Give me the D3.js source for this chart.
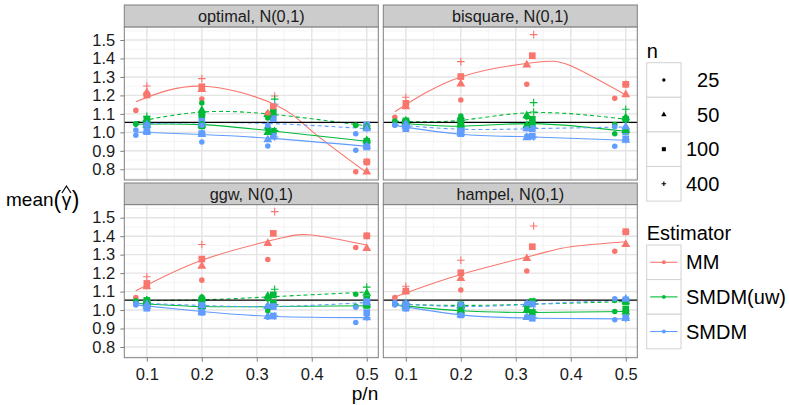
<!DOCTYPE html>
<html>
<head>
<meta charset="utf-8">
<script src="https://cdn.jsdelivr.net/npm/d3@7"></script>
<style>
  body { margin: 0; background: #fff; }
  svg { display: block; }
  text { font-family: "Liberation Sans", Arial, Helvetica, sans-serif; }
</style>
</head>
<body>
<svg id="chart" width="789" height="405"></svg>
<script>
// ---------------------------------------------------------------
// Data
// ---------------------------------------------------------------
const panelTitles = ["optimal, N(0,1)", "bisquare, N(0,1)", "ggw, N(0,1)", "hampel, N(0,1)"];
const estimators = ["MM", "SMDM(uw)", "SMDM"];
const estimatorColors = ["#F8766D", "#00BA38", "#619CFF"];
const sampleSizes = ["25", "50", "100", "400"];

// p/n design points for each sample size (rows follow sampleSizes)
const ratios = [
  [0.08, 0.2, 0.32, 0.48],
  [0.1, 0.2, 0.32, 0.5],
  [0.1, 0.2, 0.33, 0.5],
  [0.1, 0.2, 0.3325, 0.5]
];

const xTicks = [0.1, 0.2, 0.3, 0.4, 0.5];
const yTicks = [0.8, 0.9, 1.0, 1.1, 1.2, 1.3, 1.4, 1.5];
const referenceLevel = 1.054;

// mean(gamma-hat), rows = n 25/50/100/400, columns = design points
const optimalMM      = [[1.119, 1.181, 1.103, 0.787], [1.215, 1.233, 1.100, 0.786], [1.202, 1.247, 1.139, 0.840], [1.251, 1.291, 1.197, 0.840]];
const optimalUw      = [[1.044, 1.047, 1.020, 1.038], [1.040, 1.040, 1.000, 0.955], [1.042, 1.035, 1.006, 0.952], [1.045, 1.045, 1.010, 0.955]];
const optimalUwAlt   = [[1.047, 1.159, 1.078, 1.038], [1.067, 1.119, 1.096, 1.030], [1.071, 1.096, 1.106, 1.030], [1.087, 1.110, 1.180, 1.035]];
const optimalSm      = [[0.984, 0.948, 0.926, 0.903], [1.004, 0.990, 0.960, 0.925], [1.004, 0.993, 0.979, 0.921], [1.006, 0.995, 0.975, 0.925]];
const optimalSmAlt   = [[1.013, 1.038, 1.038, 0.993], [1.040, 1.050, 1.031, 1.020], [1.038, 1.060, 1.074, 1.040], [1.060, 1.094, 1.152, 1.020]];

const bisquareMM     = [[1.082, 1.175, 1.260, 1.184], [1.139, 1.262, 1.365, 1.204], [1.157, 1.302, 1.415, 1.260], [1.190, 1.383, 1.529, 1.260]];
const bisquareUw     = [[1.060, 1.038, 1.038, 0.993], [1.055, 1.040, 1.038, 1.011], [1.055, 1.035, 1.045, 1.006], [1.060, 1.040, 1.110, 1.010]];
const bisquareUwAlt  = [[1.060, 1.089, 1.083, 1.042], [1.060, 1.074, 1.090, 1.080], [1.062, 1.065, 1.071, 1.071], [1.065, 1.075, 1.161, 1.125]];
const bisquareSm     = [[1.038, 1.000, 0.980, 0.925], [1.035, 0.995, 0.971, 0.957], [1.020, 0.993, 0.979, 0.965], [1.030, 1.000, 0.975, 0.960]];
const bisquareSmAlt  = [[1.040, 1.011, 1.020, 1.030], [1.045, 1.020, 1.020, 1.030], [1.035, 1.011, 1.020, 1.006], [1.050, 1.020, 1.025, 1.071]];

const ggwMM          = [[1.068, 1.162, 1.274, 1.339], [1.126, 1.238, 1.361, 1.334], [1.144, 1.276, 1.415, 1.402], [1.180, 1.355, 1.533, 1.402]];
const ggwUw          = [[1.046, 1.055, 0.996, 1.020], [1.040, 1.020, 1.020, 1.028], [1.037, 1.020, 1.037, 1.025], [1.040, 1.025, 1.030, 1.030]];
const ggwUwAlt       = [[1.050, 1.070, 1.060, 1.086], [1.050, 1.060, 1.075, 1.091], [1.052, 1.055, 1.082, 1.059], [1.055, 1.065, 1.113, 1.124]];
const ggwSm          = [[1.028, 0.990, 0.961, 0.932], [1.020, 0.990, 0.965, 0.959], [1.010, 0.988, 0.968, 0.986], [1.015, 0.990, 0.968, 0.960]];
const ggwSmAlt       = [[1.035, 1.028, 1.020, 1.015], [1.030, 1.025, 1.020, 1.040], [1.037, 1.028, 1.019, 1.046], [1.040, 1.030, 1.022, 1.050]];

const hampelMM       = [[1.068, 1.108, 1.211, 1.319], [1.104, 1.171, 1.279, 1.355], [1.102, 1.202, 1.343, 1.424], [1.129, 1.270, 1.455, 1.424]];
const hampelUw       = [[1.032, 1.000, 0.998, 0.992], [1.019, 0.995, 0.998, 0.990], [1.015, 1.001, 0.987, 1.006], [1.020, 1.000, 0.990, 0.995]];
const hampelUwAlt    = [[1.032, 1.025, 1.014, 1.052], [1.030, 1.025, 1.030, 1.045], [1.030, 1.028, 1.046, 1.046], [1.035, 1.030, 1.046, 1.050]];
const hampelSm       = [[1.028, 0.975, 0.965, 0.947], [1.020, 0.975, 0.960, 0.955], [1.010, 0.974, 0.956, 0.959], [1.012, 0.978, 0.958, 0.955]];
const hampelSmAlt    = [[1.041, 1.032, 1.037, 1.061], [1.035, 1.020, 1.030, 1.059], [1.032, 1.018, 1.032, 1.055], [1.035, 1.025, 1.035, 1.060]];

// smoothed trend per estimator, evaluated at these p/n values
const fitXMM = [0.08, 0.2, 0.333, 0.4, 0.5];
const fitX   = [0.08, 0.2, 0.333, 0.5];

const optimalFitMM     = [1.166, 1.250, 1.150, 1.007, 0.782];
const optimalFitUw     = [1.044, 1.042, 1.006, 0.952];
const optimalFitUwAlt  = [1.056, 1.110, 1.096, 1.035];
const optimalFitSm     = [1.002, 0.988, 0.966, 0.924];
const optimalFitSmAlt  = [1.045, 1.053, 1.047, 1.020];

const bisquareFitMM    = [1.112, 1.300, 1.378, 1.360, 1.202];
const bisquareFitUw    = [1.053, 1.033, 1.047, 1.006];
const bisquareFitUwAlt = [1.060, 1.065, 1.107, 1.071];
const bisquareFitSm    = [1.038, 0.990, 0.975, 0.957];
const bisquareFitSmAlt = [1.042, 1.017, 1.020, 1.029];

const ggwFitMM         = [1.104, 1.270, 1.382, 1.406, 1.352];
const ggwFitUw         = [1.037, 1.019, 1.019, 1.023];
const ggwFitUwAlt      = [1.052, 1.055, 1.073, 1.097];
const ggwFitSm         = [1.028, 0.992, 0.965, 0.959];
const ggwFitSmAlt      = [1.037, 1.025, 1.019, 1.041];

const hampelFitMM      = [1.071, 1.193, 1.297, 1.343, 1.370];
const hampelFitUw      = [1.028, 0.996, 0.987, 0.992];
const hampelFitUwAlt   = [1.032, 1.025, 1.032, 1.046];
const hampelFitSm      = [1.028, 0.974, 0.956, 0.952];
const hampelFitSmAlt   = [1.037, 1.019, 1.032, 1.055];

// ---------------------------------------------------------------
// Assemble panel series (estimator index, dashed variant, values, fit)
// ---------------------------------------------------------------
function panelSeries(mm, uw, uwAlt, sm, smAlt, fMM, fUw, fUwAlt, fSm, fSmAlt) {
  return [
    { est: 0, dashed: false, pts: mm,    fx: fitXMM, fy: fMM },
    { est: 1, dashed: false, pts: uw,    fx: fitX,   fy: fUw },
    { est: 1, dashed: true,  pts: uwAlt, fx: fitX,   fy: fUwAlt },
    { est: 2, dashed: false, pts: sm,    fx: fitX,   fy: fSm },
    { est: 2, dashed: true,  pts: smAlt, fx: fitX,   fy: fSmAlt }
  ];
}
const panelData = [
  panelSeries(optimalMM, optimalUw, optimalUwAlt, optimalSm, optimalSmAlt,
              optimalFitMM, optimalFitUw, optimalFitUwAlt, optimalFitSm, optimalFitSmAlt),
  panelSeries(bisquareMM, bisquareUw, bisquareUwAlt, bisquareSm, bisquareSmAlt,
              bisquareFitMM, bisquareFitUw, bisquareFitUwAlt, bisquareFitSm, bisquareFitSmAlt),
  panelSeries(ggwMM, ggwUw, ggwUwAlt, ggwSm, ggwSmAlt,
              ggwFitMM, ggwFitUw, ggwFitUwAlt, ggwFitSm, ggwFitSmAlt),
  panelSeries(hampelMM, hampelUw, hampelUwAlt, hampelSm, hampelSmAlt,
              hampelFitMM, hampelFitUw, hampelFitUwAlt, hampelFitSm, hampelFitSmAlt)
];

// ---------------------------------------------------------------
// Layout
// ---------------------------------------------------------------
const svg = d3.select("#chart");
const colExtent = [[124.3, 378.3], [383.3, 637.3]];
const rowExtent = [
  { strip: 5,   top: 26.9,  bottom: 180.0 },
  { strip: 183, top: 204.6, bottom: 357.7 }
];
const xDomain = [0.059, 0.521];
const yDomain = [0.742, 1.571];
const gridMajor = "#E4E4E4", gridMinor = "#F3F3F3", frame = "#7F7F7F";
const tickFont = 16.5;

// shape generators for n = 25, 50, 100, 400
function shapePath(k, scale) {
  const s = scale || 1;
  if (k === 0) return d3.symbol(d3.symbolCircle, 24 * s * s)();
  if (k === 1) return d3.symbol(d3.symbolTriangle, 34 * s * s)();
  if (k === 2) return d3.symbol(d3.symbolSquare, 45 * s * s)();
  const a = 3.8 * s;
  return `M${-a},0H${a}M0,${-a}V${a}`;
}
function drawShape(g, k, cx, cy, color, scale) {
  const p = g.append("path")
    .attr("d", shapePath(k, scale))
    .attr("transform", `translate(${cx},${cy})`);
  if (k === 3) p.attr("fill", "none").attr("stroke", color).attr("stroke-width", 1.1);
  else p.attr("fill", color);
}

panelTitles.forEach((title, i) => {
  const col = i % 2, row = Math.floor(i / 2);
  const [x0, x1] = colExtent[col];
  const { strip, top, bottom } = rowExtent[row];
  const x = d3.scaleLinear().domain(xDomain).range([x0, x1]);
  const y = d3.scaleLinear().domain(yDomain).range([bottom, top]);
  const g = svg.append("g");

  // panel background and grid
  g.append("rect").attr("x", x0).attr("y", top).attr("width", x1 - x0).attr("height", bottom - top).attr("fill", "#fff");
  const xMinor = d3.range(0.15, 0.5, 0.1);
  const yMinor = d3.range(0.75, 1.56, 0.1);
  g.selectAll(null).data(xMinor).join("line")
    .attr("x1", d => x(d)).attr("x2", d => x(d)).attr("y1", top).attr("y2", bottom)
    .attr("stroke", gridMinor).attr("stroke-width", 0.9);
  g.selectAll(null).data(yMinor).join("line")
    .attr("y1", d => y(d)).attr("y2", d => y(d)).attr("x1", x0).attr("x2", x1)
    .attr("stroke", gridMinor).attr("stroke-width", 0.9);
  g.selectAll(null).data(xTicks).join("line")
    .attr("x1", d => x(d)).attr("x2", d => x(d)).attr("y1", top).attr("y2", bottom)
    .attr("stroke", gridMajor).attr("stroke-width", 1.4);
  g.selectAll(null).data(yTicks).join("line")
    .attr("y1", d => y(d)).attr("y2", d => y(d)).attr("x1", x0).attr("x2", x1)
    .attr("stroke", gridMajor).attr("stroke-width", 1.4);

  // smoothed trends
  const series = panelData[i];
  const line = d3.line().curve(d3.curveNatural);
  series.forEach(s => {
    g.append("path")
      .attr("d", line(s.fx.map((v, j) => [x(v), y(s.fy[j])])))
      .attr("fill", "none")
      .attr("stroke", estimatorColors[s.est])
      .attr("stroke-width", 1.1)
      .attr("stroke-dasharray", s.dashed ? "4,3" : null);
  });

  // reference level
  g.append("line").attr("x1", x0).attr("x2", x1)
    .attr("y1", y(referenceLevel)).attr("y2", y(referenceLevel))
    .attr("stroke", "#000").attr("stroke-width", 1.1);

  // points: n = 400 first so smaller designs sit on top
  [3, 2, 1, 0].forEach(k => {
    series.forEach(s => {
      s.pts[k].forEach((v, j) => {
        drawShape(g, k, x(ratios[k][j]), y(v), estimatorColors[s.est]);
      });
    });
  });

  // frame
  g.append("rect").attr("x", x0).attr("y", top).attr("width", x1 - x0).attr("height", bottom - top)
    .attr("fill", "none").attr("stroke", frame).attr("stroke-width", 1);

  // strip
  g.append("rect").attr("x", x0).attr("y", strip).attr("width", x1 - x0).attr("height", top - strip)
    .attr("fill", "#CCCCCC").attr("stroke", frame).attr("stroke-width", 1);
  g.append("text").attr("x", (x0 + x1) / 2).attr("y", (strip + top) / 2 + 5.7)
    .attr("text-anchor", "middle").attr("font-size", 16.3).attr("fill", "#1a1a1a").text(title);

  // axes on outer panels only
  if (col === 0) {
    const ax = g.append("g").attr("transform", `translate(${x0},0)`)
      .call(d3.axisLeft(y).tickValues(yTicks).tickFormat(d3.format(".1f")).tickSize(4).tickPadding(5));
    ax.select(".domain").remove();
    ax.selectAll(".tick line").attr("stroke", frame);
    ax.selectAll(".tick text").attr("font-size", tickFont).attr("fill", "#1a1a1a")
      .attr("font-family", "Liberation Sans, Arial, sans-serif");
  }
  if (row === 1) {
    const ax = g.append("g").attr("transform", `translate(0,${bottom})`)
      .call(d3.axisBottom(x).tickValues(xTicks).tickFormat(d3.format(".1f")).tickSize(4).tickPadding(7));
    ax.select(".domain").remove();
    ax.selectAll(".tick line").attr("stroke", frame);
    ax.selectAll(".tick text").attr("font-size", tickFont).attr("fill", "#1a1a1a")
      .attr("font-family", "Liberation Sans, Arial, sans-serif");
  }
});

// ---------------------------------------------------------------
// Axis titles
// ---------------------------------------------------------------
svg.append("text").attr("x", 365).attr("y", 400).attr("text-anchor", "middle")
  .attr("font-size", 19).text("p/n");

const yTitle = svg.append("g");
const base = 206;
const tMean = yTitle.append("text").attr("x", 6).attr("y", base).attr("font-size", 19).text("mean");
let cx = 6 + tMean.node().getComputedTextLength();
const tOpen = yTitle.append("text").attr("x", cx).attr("y", base + 2).attr("font-size", 23).text("(");
cx += tOpen.node().getComputedTextLength();
const tGamma = yTitle.append("text").attr("x", cx + 0.5).attr("y", base).attr("font-size", 19).text("γ");
const gw = tGamma.node().getComputedTextLength();
const hatMid = cx + 0.5 + gw / 2;
yTitle.append("path")
  .attr("d", `M${hatMid - 4.5},${base - 13}L${hatMid},${base - 20}L${hatMid + 4.5},${base - 13}`)
  .attr("fill", "none").attr("stroke", "#000").attr("stroke-width", 1.2);
cx += gw + 1;
yTitle.append("text").attr("x", cx).attr("y", base + 2).attr("font-size", 23).text(")");

// ---------------------------------------------------------------
// Legends
// ---------------------------------------------------------------
const legX = 646.7, keyW = 34.3, keyH = 34.6;
const leg = svg.append("g");

leg.append("text").attr("x", legX).attr("y", 58).attr("font-size", 20).text("n");
sampleSizes.forEach((lab, k) => {
  const ky = 62.7 + k * keyH;
  leg.append("rect").attr("x", legX).attr("y", ky).attr("width", keyW).attr("height", keyH)
    .attr("fill", "#fff").attr("stroke", "#D2D2D2").attr("stroke-width", 1);
  drawShape(leg, k, legX + keyW / 2, ky + keyH / 2, "#000", 0.6);
  leg.append("text").attr("x", 719.3).attr("y", ky + keyH / 2 + 7).attr("text-anchor", "end")
    .attr("font-size", 20).text(lab);
});

leg.append("text").attr("x", legX).attr("y", 240).attr("font-size", 20).text("Estimator");
estimators.forEach((lab, e) => {
  const ky = 245 + e * keyH;
  leg.append("rect").attr("x", legX).attr("y", ky).attr("width", keyW).attr("height", keyH)
    .attr("fill", "#fff").attr("stroke", "#D2D2D2").attr("stroke-width", 1);
  leg.append("line").attr("x1", legX + 3.5).attr("x2", legX + keyW - 3.5)
    .attr("y1", ky + keyH / 2).attr("y2", ky + keyH / 2)
    .attr("stroke", estimatorColors[e]).attr("stroke-width", 1.1);
  drawShape(leg, 0, legX + keyW / 2, ky + keyH / 2, estimatorColors[e], 0.7);
  leg.append("text").attr("x", 686).attr("y", ky + keyH / 2 + 7)
    .attr("font-size", 20).text(lab);
});
</script>
</body>
</html>
